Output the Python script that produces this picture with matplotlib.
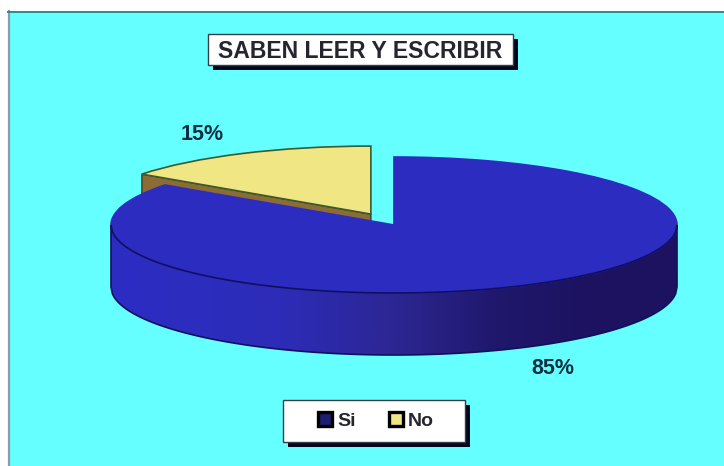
import numpy as np
import matplotlib
matplotlib.use("Agg")
import matplotlib.pyplot as plt
from matplotlib.colors import LinearSegmentedColormap
from matplotlib.patches import Patch, Polygon, Rectangle

plt.rcParams['font.family'] = ['Liberation Sans', 'DejaVu Sans']

# datos
titulo = "SABEN LEER Y ESCRIBIR"
categorias = ["Si", "No"]
valores = [85, 15]

W, H = 724, 466
CX, CY = 394, 225     # centro de la elipse en pixeles
RX, RY = 283, 68      # radios de la elipse
PROF = 62 / RY        # altura del cilindro
EXPLODE = [0, 0.18]

AZUL = "#2c2cc0"
CREMA = "#f0e684"
MARRON = "#8a6c34"
CIAN = "#66ffff"

fig = plt.figure(figsize=(W / 100, H / 100), dpi=100, facecolor="white")

# fondo, cajas y textos en pixeles
bg = fig.add_axes([0, 0, 1, 1], zorder=0)
bg.set_xlim(0, W)
bg.set_ylim(H, 0)
bg.axis("off")
bg.add_patch(Rectangle((8, 11), W, H, fc=CIAN, ec="none"))
bg.plot([8.5, 8.5], [11, H], color="#8a9cac", lw=1.6)
bg.plot([8, W], [11.5, 11.5], color="#2a8c90", lw=1.4)


def caja(x0, y0, x1, y1):
    bg.add_patch(Rectangle((x0 + 5, y0 + 5), x1 - x0, y1 - y0, fc="#05051e", ec="none"))
    bg.add_patch(Rectangle((x0, y0), x1 - x0, y1 - y0, fc="white", ec="#33404a", lw=1))


caja(208, 34, 513, 65)
bg.text(360.5, 51, titulo, fontsize=16.6, fontweight="bold", color="#26262e",
        ha="center", va="center")

caja(283, 400, 465, 442)
handles = [Patch(fc="#1c1c70", ec="black", lw=2.4), Patch(fc=CREMA, ec="black", lw=2.4)]
bg.legend(handles, categorias, ncol=2, frameon=False, loc="center",
          bbox_to_anchor=(376 / W, 1 - 421 / H), handlelength=0.75, handleheight=0.75,
          handletextpad=0.25, columnspacing=1.7, borderpad=0,
          prop={"size": 14, "weight": "bold"}, labelcolor="#26262e")

bg.text(202, 135, f"{valores[1]}%", fontsize=15.5, fontweight="bold", color="#0c3040",
        ha="center", va="center")
bg.text(553, 368, f"{valores[0]}%", fontsize=15.5, fontweight="bold", color="#0c3040",
        ha="center", va="center")

# torta: circulo unitario deformado en elipse
ax = fig.add_axes([0, 0, 1, 1], zorder=1)
wedges, _ = ax.pie(valores, explode=EXPLODE, startangle=90, counterclock=False,
                   colors=[AZUL, CREMA],
                   wedgeprops={"linewidth": 1.2})
wedges[0].set_edgecolor(AZUL)
wedges[1].set_edgecolor("#3c5a30")

# pared lateral del cilindro con degradado
xs = np.linspace(-1, 1, 400)
frente = -np.sqrt(1 - xs ** 2)
borde = np.column_stack([np.r_[xs, xs[::-1]], np.r_[frente, frente[::-1] - PROF]])
cmap = LinearSegmentedColormap.from_list("lado", [
    (0.0, "#2c2cc4"), (0.3, "#2c2cb8"), (0.5, "#2c2694"),
    (0.68, "#20186c"), (0.85, "#1c1260"), (1.0, "#1c1260")])
img = ax.imshow(np.linspace(0, 1, 256)[None, :], cmap=cmap, aspect="auto",
                extent=(-1, 1, -1 - PROF, 0), zorder=0.5)
pared = Polygon(borde, closed=True, fc="none", ec="#101060", lw=1.2, zorder=1.5)
ax.add_patch(pared)
img.set_clip_path(pared)
ax.set_aspect("auto")
ax.set_xlim(-CX / RX, (W - CX) / RX)
ax.set_ylim((CY - H) / RY, CY / RY)

# cara de corte de la porcion separada
ang = np.pi / 2 - 2 * np.pi * valores[0] / sum(valores)
medio = np.pi / 2 - 2 * np.pi * (valores[0] + valores[1] / 2) / sum(valores)
ox, oy = EXPLODE[1] * np.cos(medio), EXPLODE[1] * np.sin(medio)
px, py = ox + np.cos(ang), oy + np.sin(ang)
ax.add_patch(Polygon([(ox, oy), (px, py), (px, py - PROF), (ox, oy - PROF)], closed=True,
                     fc=MARRON, ec="#3c3a18", lw=1, zorder=0.2))

fig.savefig("out.png", dpi=100, facecolor="white")
